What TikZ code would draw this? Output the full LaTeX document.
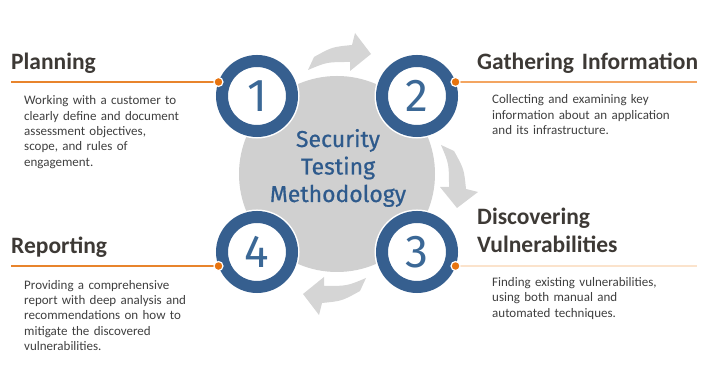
\documentclass[tikz,border=0pt]{standalone}
\usepackage{fontspec}
\setmainfont{Carlito}
\newfontfamily\numfont{Fira Sans}
\newfontfamily\hubfont[FakeBold=0.7]{Fira Sans}
\usetikzlibrary{positioning}

\definecolor{hubgray}{HTML}{D0D0D0}
\definecolor{arrowgray}{HTML}{D5D5D5}
\definecolor{ringblue}{HTML}{365F8F}
\definecolor{numblue}{HTML}{3B6896}
\definecolor{titleblue}{HTML}{2E5A8C}
\definecolor{dotorange}{HTML}{E8740F}
\definecolor{headgray}{HTML}{3D3935}
\definecolor{bodygray}{HTML}{3F3F3F}
\definecolor{leadA}{HTML}{E8842C}
\definecolor{leadB}{HTML}{F3A561}
\definecolor{leadC}{HTML}{FBE3CC}

\begin{document}
\begin{tikzpicture}[x=1pt, y=1pt,
    hub/.style={circle, fill=hubgray, minimum size=196pt, inner sep=0pt},
    ring/.style={circle, draw=ringblue, line width=12pt, fill=white, minimum size=70pt, inner sep=0pt,
        preaction={draw=white, fill=white, line width=15pt}, text=numblue, font=\numfont\fontsize{46}{46}\selectfont},
    dot/.style={circle, fill=dotorange, draw=white, line width=1.2pt, minimum size=9pt, inner sep=0pt},
    lead/.style={line width=1.2pt},
    heading/.style={anchor=base west, inner sep=0pt, text=headgray, font=\bfseries\fontsize{23.5}{28}\selectfont, text width=260pt, align=left},
    body/.style={anchor=base west, inner sep=0pt, text=bodygray, font=\fontsize{13}{15.3}\selectfont, text width=240pt, align=left},
    flow/.style={fill=arrowgray}
]
\useasboundingbox (0,0) rectangle (720,371);

% Hub and curved arrows
\node[hub] (hub) at (337,197) {};
\foreach \ang in {0,-90,-180}
    \fill[flow, shift={(hub)}, rotate=\ang] (-29,104) -- (-23,117) .. controls (-5,127) .. (15,129)
        -- (18,141) -- (34,120) -- (13,103) -- (13,112) .. controls (-10,112) .. (-29,104) -- cycle;
\node[anchor=base, inner sep=0pt, text=titleblue, font=\hubfont\fontsize{23}{27.5}\selectfont, text width=160pt, align=center] (method) at (338,224) {Security\\Testing\\Methodology};

% Step rings
\node[ring] (r1) at (257,275) {1};
\node[ring] (r2) at (417,275) {2};
\node[ring] (r3) at (417,119) {3};
\node[ring] (r4) at (257,119) {4};

% Lead lines and dots
\coordinate (edgeL) at (11,0);
\coordinate (edgeR) at (697,0);
\draw[lead, leadA] (r1.160) -- (r1.160 -| edgeL);
\draw[lead, leadB] (r2.20) -- (r2.20 -| edgeR);
\draw[lead, leadC] (r3.-20) -- (r3.-20 -| edgeR);
\draw[lead, leadA] (r4.200) -- (r4.200 -| edgeL);
\node[dot] (d1) at (r1.160) {};
\node[dot] (d2) at (r2.20) {};
\node[dot] (d3) at (r3.-20) {};
\node[dot] (d4) at (r4.200) {};

% Headings
\node[heading] (plan) at (11,301.5) {Planning};
\node[heading] (gather) at (477,301.5) {Gathering Information};
\node[heading] (discover) at (477,146) {Discovering\\Vulnerabilities};
\node[heading] (report) at (11,117.7) {Reporting};

% Descriptions
\node[body] (plantext) at (24,266) {Working with a customer to\\clearly define and document\\assessment objectives,\\scope, and rules of\\engagement.};
\node[body] (gathertext) at (492,267) {Collecting and examining key\\information about an application\\and its infrastructure.};
\node[body] (discovertext) at (492,84.3) {Finding existing vulnerabilities,\\using both manual and\\automated techniques.};
\node[body] (reporttext) at (24,81.7) {Providing a comprehensive\\report with deep analysis and\\recommendations on how to\\mitigate the discovered\\vulnerabilities.};

\end{tikzpicture}
\end{document}
